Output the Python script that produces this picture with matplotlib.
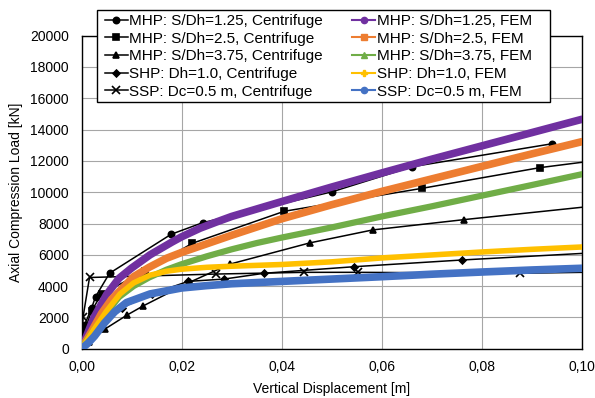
import matplotlib
matplotlib.use("Agg")
import matplotlib.pyplot as plt
from matplotlib.lines import Line2D
from matplotlib.patches import Rectangle
from matplotlib.ticker import FuncFormatter

plt.rcParams['font.family'] = ['Liberation Sans', 'DejaVu Sans']

# ---------------- Data ----------------
# Centrifuge tests
c125_x = [0, 0.0006, 0.0020, 0.0028, 0.0056, 0.0179, 0.0242, 0.0501, 0.0661, 0.0941]
c125_y = [0, 1510, 2580, 3320, 4820, 7310, 8050, 10030, 11630, 13100]

c25_x = [0, 0.0008, 0.0020, 0.0040, 0.0127, 0.0221, 0.0405, 0.0681, 0.0916, 0.1140]
c25_y = [0, 1300, 2400, 3500, 4970, 6730, 8780, 10250, 11570, 12480]

c375_x = [0, 0.0015, 0.0047, 0.0091, 0.0123, 0.0217, 0.0296, 0.0456, 0.0582, 0.0765, 0.1150]
c375_y = [0, 400, 1260, 2150, 2730, 4260, 5400, 6760, 7590, 8250, 9540]

cshp_x = [0, 0.0010, 0.0030, 0.0080, 0.0140, 0.0213, 0.0285, 0.0365, 0.0545, 0.0761, 0.1150]
cshp_y = [0, 700, 1500, 2600, 3500, 4300, 4450, 4820, 5240, 5670, 6350]

cssp_x = [0, 0.0002, 0.0003, 0.0016, 0.0269, 0.0445, 0.0552, 0.0876, 0.1150]
cssp_y = [0, 1000, 2000, 4550, 4770, 4880, 4880, 4820, 4950]

# FEM results
f125_x = [0, 0.001, 0.0025, 0.005, 0.0075, 0.010, 0.0137, 0.018, 0.020, 0.0237, 0.027,
          0.030, 0.040, 0.050, 0.060, 0.070, 0.080, 0.090, 0.100]
f125_y = [0, 800, 2000, 3450, 4500, 5150, 6000, 6800, 7150, 7700, 8100,
          8450, 9400, 10330, 11230, 12110, 12960, 13810, 14660]

f25_x = [0, 0.001, 0.002, 0.004, 0.006, 0.0104, 0.0135, 0.017, 0.020, 0.025,
         0.030, 0.040, 0.050, 0.060, 0.070, 0.080, 0.090, 0.100]
f25_y = [0, 550, 1100, 2250, 3150, 4600, 5200, 5780, 6150, 6700,
         7250, 8300, 9200, 10050, 10850, 11650, 12450, 13230]

f375_x = [0, 0.001, 0.0025, 0.005, 0.0075, 0.0104, 0.0135, 0.017, 0.020, 0.025,
          0.030, 0.035, 0.040, 0.050, 0.060, 0.070, 0.080, 0.090, 0.100]
f375_y = [0, 500, 1200, 2300, 3300, 4000, 4550, 5050, 5400, 5900,
          6350, 6750, 7100, 7750, 8450, 9100, 9780, 10460, 11150]

fshp_x = [0, 0.001, 0.0025, 0.005, 0.0077, 0.0104, 0.0137, 0.017, 0.020, 0.025,
          0.030, 0.040, 0.050, 0.060, 0.070, 0.080, 0.090, 0.100]
fshp_y = [0, 500, 1250, 2400, 3500, 4200, 4700, 4950, 5080, 5200,
          5270, 5380, 5550, 5800, 5990, 6180, 6350, 6500]

fssp_x = [0, 0.0013, 0.0026, 0.0046, 0.0066, 0.009, 0.0137, 0.020, 0.025, 0.030,
          0.040, 0.050, 0.060, 0.070, 0.080, 0.090, 0.100]
fssp_y = [0, 350, 800, 1650, 2350, 2950, 3500, 3880, 4030, 4150,
          4300, 4450, 4600, 4760, 4900, 5030, 5140]

labels = ["MHP: S/Dh=1.25, Centrifuge", "MHP: S/Dh=2.5, Centrifuge",
          "MHP: S/Dh=3.75, Centrifuge", "SHP: Dh=1.0, Centrifuge",
          "SSP: Dc=0.5 m, Centrifuge", "MHP: S/Dh=1.25, FEM",
          "MHP: S/Dh=2.5, FEM", "MHP: S/Dh=3.75, FEM",
          "SHP: Dh=1.0, FEM", "SSP: Dc=0.5 m, FEM"]

x_ticks = [0, 0.02, 0.04, 0.06, 0.08, 0.10]
y_ticks = [0, 2000, 4000, 6000, 8000, 10000, 12000, 14000, 16000, 18000, 20000]

# ---------------- Figure ----------------
W, H = 595, 398
fig = plt.figure(figsize=(W / 100, H / 100), dpi=100)
ax = fig.add_axes([81.5 / W, 1 - 348.7 / H, (582 - 81.5) / W, (348.7 - 35.7) / H])

cent = [(c125_x, c125_y, 'o', 4.5), (c25_x, c25_y, 's', 4.5), (c375_x, c375_y, '^', 4.5),
        (cshp_x, cshp_y, 'D', 3.5), (cssp_x, cssp_y, 'x', 5.5)]
handles = []
for (xs, ys, m, ms), lab in zip(cent, labels[:5]):
    ax.plot(xs, ys, color='black', lw=1.1, marker=m, ms=ms, mew=1.2, zorder=3)
    handles.append(Line2D([], [], color='black', lw=1.1, marker=m, ms=ms, mew=1.2, label=lab))

fem = [(f125_x, f125_y, '#7030A0', 'o', 5.5), (f25_x, f25_y, '#ED7D31', 's', 5.5),
       (f375_x, f375_y, '#70AD47', '^', 4.5), (fshp_x, fshp_y, '#FFC000', 'P', 4.0),
       (fssp_x, fssp_y, '#4472C4', 'o', 5.5)]
for (xs, ys, c, m, lw), lab in zip(fem, labels[5:]):
    ax.plot(xs, ys, color=c, lw=lw, solid_capstyle='round', solid_joinstyle='round', zorder=4)
    handles.append(Line2D([], [], color=c, lw=1.5, marker=m, ms=4.5, label=lab))

ax.set_xlim(0, 0.10)
ax.set_ylim(0, 20000)
ax.set_xticks(x_ticks)
ax.set_yticks(y_ticks)
ax.xaxis.set_major_formatter(FuncFormatter(lambda v, p: f"{v:.2f}".replace('.', ',')))
ax.yaxis.set_major_formatter(FuncFormatter(lambda v, p: f"{int(round(v))}"))
ax.tick_params(axis='both', length=0, labelsize=10, colors='#000000')
ax.tick_params(axis='y', pad=9)
ax.tick_params(axis='x', pad=8)
ax.grid(True, color='#A6A6A6', lw=0.8, zorder=0)
ax.set_axisbelow(True)
for s in ax.spines.values():
    s.set_color('black')
    s.set_linewidth(1.0)

ax.set_xlabel("Vertical Displacement [m]", fontsize=10, labelpad=6)
ax.set_ylabel("Axial Compression Load [kN]", fontsize=10, labelpad=5)

# legend box (frame drawn separately to match the reference width)
box = Rectangle((97 / W, 1 - 101.7 / H), (550 - 97) / W, (101.7 - 10) / H,
                transform=fig.transFigure, facecolor='white', edgecolor='black',
                lw=1.0, zorder=9)
fig.add_artist(box)

leg = fig.legend(handles=handles, ncol=2, loc='upper left',
                 bbox_to_anchor=(105 / W, 1 - 14 / H), fontsize=11,
                 frameon=False, borderpad=0.0, labelspacing=0.24, handlelength=1.5,
                 handletextpad=0.1, columnspacing=1.9, borderaxespad=0)
leg.set_zorder(10)

fig.savefig("out.png", dpi=100)
